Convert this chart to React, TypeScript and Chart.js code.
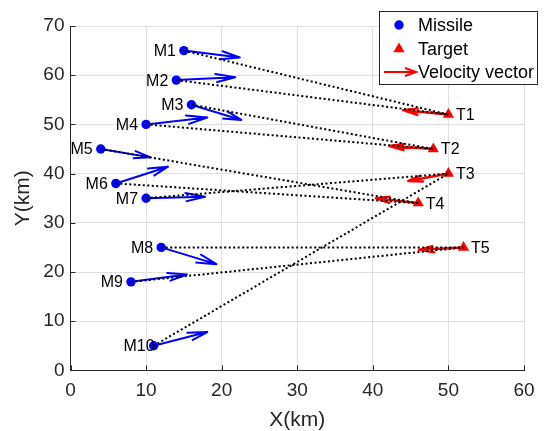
import React, { useEffect, useRef } from 'react';
import { Chart, registerables } from 'chart.js';

Chart.register(...registerables);

// ---------- data ----------
const xTicks = [0, 10, 20, 30, 40, 50, 60];
const yTicks = [0, 10, 20, 30, 40, 50, 60, 70];

const missileNames = ['M1', 'M2', 'M3', 'M4', 'M5', 'M6', 'M7', 'M8', 'M9', 'M10'];
const missileX = [15, 14, 16, 10, 4, 6, 10, 12, 8, 11];
const missileY = [65, 59, 54, 50, 45, 38, 35, 25, 18, 5];
const missileVX = [7.4, 7.8, 6.6, 8.1, 6.6, 6.9, 7.8, 7.3, 7.4, 7.1];
const missileVY = [-1.4, 0.6, -3.1, 1.4, -1.7, 3.4, 0.3, -3.4, 1.5, 2.8];

const targetNames = ['T1', 'T2', 'T3', 'T4', 'T5'];
const targetX = [50, 48, 50, 46, 52];
const targetY = [52, 45, 40, 34, 25];
const targetVX = [-6.0, -5.8, -5.3, -5.6, -5.9];
const targetVY = [0.9, 0.6, -1.5, 1.0, -0.5];

// index of the target assigned to each missile
const assignment = [0, 0, 1, 1, 3, 3, 2, 4, 4, 2];

const legendLabels = ['Missile', 'Target', 'Velocity vector'];

// ---------- style ----------
const FONT = '"Liberation Sans", Arial, Helvetica, sans-serif';
const AXIS_COLOR = '#262626';
const BLUE = '#0000ff';
const RED = '#ff0000';

const ALPHA = 0.33;
const BETA = 0.33;

function arrowPath(x: number, y: number, u: number, v: number) {
  const tx = x + u;
  const ty = y + v;
  return [
    { x, y },
    { x: tx, y: ty },
    { x: tx - ALPHA * (u + BETA * v), y: ty - ALPHA * (v - BETA * u) },
    { x: tx, y: ty },
    { x: tx - ALPHA * (u - BETA * v), y: ty - ALPHA * (v + BETA * u) },
  ];
}

const decorPlugin = {
  id: 'decor',
  afterDatasetsDraw(chart: any) {
    const { ctx, scales, chartArea } = chart;
    const xs = scales.x;
    const ys = scales.y;
    ctx.save();
    // inward ticks
    ctx.strokeStyle = AXIS_COLOR;
    ctx.lineWidth = 1;
    ctx.beginPath();
    xTicks.forEach((t) => {
      const px = Math.round(xs.getPixelForValue(t)) + 0.5;
      ctx.moveTo(px, chartArea.bottom);
      ctx.lineTo(px, chartArea.bottom - 5);
    });
    yTicks.forEach((t) => {
      const py = Math.round(ys.getPixelForValue(t)) + 0.5;
      ctx.moveTo(chartArea.left, py);
      ctx.lineTo(chartArea.left + 5, py);
    });
    ctx.stroke();

    // point labels
    ctx.fillStyle = '#000000';
    ctx.font = `16px ${FONT}`;
    ctx.textBaseline = 'middle';
    ctx.textAlign = 'left';
    missileNames.forEach((name, i) => {
      ctx.fillText(name, xs.getPixelForValue(missileX[i] - 4), ys.getPixelForValue(missileY[i]) + 1);
    });
    targetNames.forEach((name, i) => {
      ctx.fillText(name, xs.getPixelForValue(targetX[i] + 1), ys.getPixelForValue(targetY[i]) + 1);
    });
    ctx.restore();
  },
  afterDraw(chart: any) {
    const { ctx } = chart;
    ctx.save();
    // legend box
    const bx = 379.5, by = 11.5, bw = 158, bh = 73;
    ctx.fillStyle = '#ffffff';
    ctx.fillRect(bx, by, bw, bh);
    ctx.strokeStyle = AXIS_COLOR;
    ctx.lineWidth = 1;
    ctx.strokeRect(bx, by, bw, bh);

    const rows = [25, 49, 72];
    const mx = 399;
    // missile
    ctx.fillStyle = BLUE;
    ctx.beginPath();
    ctx.arc(mx, rows[0], 4.7, 0, Math.PI * 2);
    ctx.fill();
    // target
    ctx.fillStyle = RED;
    ctx.beginPath();
    const r = 6.5;
    ctx.moveTo(mx, rows[1] - r);
    ctx.lineTo(mx + r * Math.sin((2 * Math.PI) / 3), rows[1] - r * Math.cos((2 * Math.PI) / 3));
    ctx.lineTo(mx + r * Math.sin((4 * Math.PI) / 3), rows[1] - r * Math.cos((4 * Math.PI) / 3));
    ctx.closePath();
    ctx.fill();
    // arrow
    ctx.strokeStyle = RED;
    ctx.lineWidth = 2;
    ctx.beginPath();
    ctx.moveTo(384, rows[2]);
    ctx.lineTo(416, rows[2]);
    ctx.moveTo(405, rows[2] - 4);
    ctx.lineTo(416, rows[2]);
    ctx.lineTo(405, rows[2] + 4);
    ctx.stroke();

    ctx.fillStyle = '#000000';
    ctx.font = `18px ${FONT}`;
    ctx.textBaseline = 'middle';
    ctx.textAlign = 'left';
    legendLabels.forEach((t, i) => ctx.fillText(t, 418, rows[i] + 1));
    ctx.restore();
  },
};

export default function App() {
  const canvasRef = useRef<HTMLCanvasElement | null>(null);

  useEffect(() => {
    document.body.style.margin = '0';
    const canvas = canvasRef.current;
    if (!canvas) return;

    const datasets: any[] = [];

    // dotted assignment lines (on top)
    missileX.forEach((mxv, i) => {
      const t = assignment[i];
      datasets.push({
        label: `line${i}`,
        data: [
          { x: mxv, y: missileY[i] },
          { x: targetX[t], y: targetY[t] },
        ],
        showLine: true,
        borderColor: '#000000',
        borderWidth: 2,
        borderDash: [2, 2.5],
        pointRadius: 0,
        order: 0,
      });
    });

    datasets.push({
      label: 'Missile',
      data: missileX.map((x, i) => ({ x, y: missileY[i] })),
      pointStyle: 'circle',
      pointRadius: 4.7,
      backgroundColor: BLUE,
      borderColor: BLUE,
      borderWidth: 0,
      showLine: false,
      order: 1,
    });
    datasets.push({
      label: 'Target',
      data: targetX.map((x, i) => ({ x, y: targetY[i] })),
      pointStyle: 'triangle',
      pointRadius: 6.5,
      backgroundColor: RED,
      borderColor: RED,
      borderWidth: 0,
      showLine: false,
      order: 1,
    });

    missileX.forEach((x, i) => {
      datasets.push({
        label: `mv${i}`,
        data: arrowPath(x, missileY[i], missileVX[i], missileVY[i]),
        showLine: true,
        borderColor: BLUE,
        borderWidth: 2,
        pointRadius: 0,
        borderJoinStyle: 'round',
        order: 2,
      });
    });
    targetX.forEach((x, i) => {
      datasets.push({
        label: `tv${i}`,
        data: arrowPath(x, targetY[i], targetVX[i], targetVY[i]),
        showLine: true,
        borderColor: RED,
        borderWidth: 2.5,
        pointRadius: 0,
        borderJoinStyle: 'round',
        order: 2,
      });
    });

    const chart = new Chart(canvas, {
      type: 'scatter',
      data: { datasets },
      options: {
        animation: false,
        responsive: false,
        devicePixelRatio: 1,
        events: [],
        layout: { padding: { left: 0, top: 26, right: 20, bottom: 0 } },
        plugins: {
          legend: { display: false },
          tooltip: { enabled: false },
        },
        scales: {
          x: {
            type: 'linear',
            min: 0,
            max: 60,
            afterFit: (s: any) => {
              s.height = 60.6;
            },
            afterBuildTicks: (s: any) => {
              s.ticks = xTicks.map((v) => ({ value: v }));
            },
            grid: { color: '#e0e0e0', drawTicks: false, lineWidth: 1 },
            border: { color: AXIS_COLOR, width: 1 },
            ticks: {
              color: AXIS_COLOR,
              font: { family: FONT, size: 19 },
              padding: 9,
              maxRotation: 0,
            },
            title: {
              display: true,
              text: 'X(km)',
              color: AXIS_COLOR,
              font: { family: FONT, size: 21, lineHeight: 1 },
              padding: { top: 0, bottom: 0 },
            },
          },
          y: {
            type: 'linear',
            min: 0,
            max: 70,
            afterFit: (s: any) => {
              s.width = 70.5;
            },
            afterBuildTicks: (s: any) => {
              s.ticks = yTicks.map((v) => ({ value: v }));
            },
            grid: { color: '#e0e0e0', drawTicks: false, lineWidth: 1 },
            border: { color: AXIS_COLOR, width: 1 },
            ticks: {
              color: AXIS_COLOR,
              font: { family: FONT, size: 19 },
              padding: 6,
            },
            title: {
              display: true,
              text: 'Y(km)',
              color: AXIS_COLOR,
              font: { family: FONT, size: 21, lineHeight: 1 },
              padding: { top: 13, bottom: 0 },
            },
          },
        },
      },
      plugins: [decorPlugin],
    });

    return () => {
      chart.destroy();
    };
  }, []);

  return (
    <div style={{ position: 'absolute', left: 0, top: 0, width: 544, height: 431 }}>
      <canvas ref={canvasRef} width={544} height={431} style={{ width: 544, height: 431 }} />
    </div>
  );
}
